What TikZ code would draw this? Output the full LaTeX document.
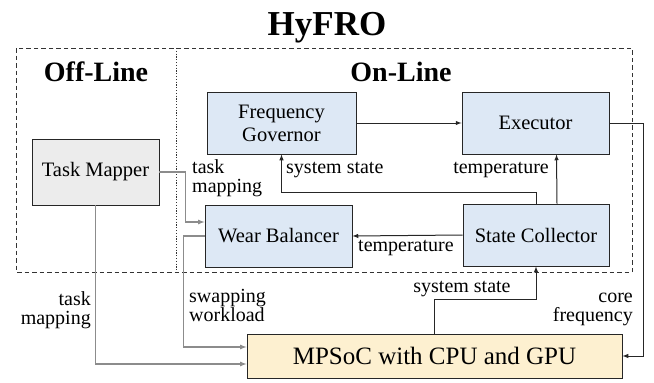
\documentclass[tikz,border=0pt]{standalone}
\usepackage{fontspec}
\setmainfont{Liberation Serif}
\usetikzlibrary{arrows,positioning,calc}

\definecolor{blockblue}{HTML}{DDE8F5}
\definecolor{blockgray}{HTML}{ECECEC}
\definecolor{blockyellow}{HTML}{FDF0D0}
\definecolor{wiregray}{HTML}{8C8C8C}

\begin{document}
\begin{tikzpicture}[x=1pt, y=-1pt,
  block/.style={draw=black!85, line width=0.9pt, fill=#1, align=center,
                inner sep=0pt, font=\fontsize{20.5}{23}\selectfont},
  lbl/.style={inner sep=0pt, font=\fontsize{20}{19}\selectfont},
  head/.style={inner sep=0pt, font=\fontsize{28}{32}\selectfont\bfseries},
  wire/.style={-latex, line width=1pt, draw=black!85},
  graywire/.style={-latex, line width=1.2pt, draw=wiregray}]

  \useasboundingbox (0,0) rectangle (654,383);

  % frame
  \node[inner sep=0pt, font=\fontsize{35}{40}\selectfont\bfseries] (title) at (327,28) {HyFRO};
  \draw[dash pattern=on 4.5pt off 3pt, line width=0.9pt, black!80] (16,48) rectangle (632,272);
  \draw[dash pattern=on 1.2pt off 1.6pt, line width=0.8pt, black!80] (176,48) -- (176,272);
  \node[head] (offline) at (96,72) {Off-Line};
  \node[head] (online)  at (401,72) {On-Line};

  % blocks
  \node[block=blockgray, minimum width=127, minimum height=66] (mapper)    at (95.5,172) {Task Mapper};
  \node[block=blockblue, minimum width=149, minimum height=62] (governor)  at (281.5,123) {Frequency\\Governor};
  \node[block=blockblue, minimum width=147, minimum height=62] (executor)  at (535.5,123) {Executor};
  \node[block=blockblue, minimum width=147, minimum height=62] (balancer)  at (278.5,236) {Wear Balancer};
  \node[block=blockblue, minimum width=146, minimum height=62] (collector) at (536,235) {State Collector};
  \node[block=blockyellow, minimum width=375, minimum height=44,
        font=\fontsize{25}{30}\selectfont] (mpsoc) at (434.5,356) {MPSoC with CPU and GPU};

  % connections
  \draw[wire] (governor.east) -- (executor.west);
  \draw[wire] (executor.east) -- ++(34,0) |- (mpsoc.east);
  \draw[wire] ([xshift=21pt]collector.north) -- ([xshift=21pt]executor.south);
  \draw[wire] (collector.north) -- ++(0,-11) -| (governor.south);
  \draw[wire] (collector.west) -- (balancer.east);
  \draw[wire] (mpsoc.north) -- ++(0,-34) -| (collector.south);
  \draw[graywire] (mapper.east) -- ++(26,0) |- ([yshift=14pt]balancer.west);
  \draw[graywire] (mapper.south) |- ([yshift=-8pt]mpsoc.west);
  \draw[graywire] (balancer.west) -- ++(-21,0) |- ([yshift=9pt]mpsoc.west);

  % labels
  \node[lbl, align=left, anchor=west]  (mapA)  at (192,178) {task\\mapping};
  \node[lbl, anchor=west]              (stA)   at (286,170) {system state};
  \node[lbl, anchor=east]              (tempA) at (549,170) {temperature};
  \node[lbl, anchor=west]              (tempB) at (358,248) {temperature};
  \node[lbl, align=right, anchor=east] (mapB)  at (91,310) {task\\mapping};
  \node[lbl, align=left, anchor=west]  (swap)  at (189,305) {swapping\\workload};
  \node[lbl, align=right, anchor=east] (freq)  at (633,309) {core\\frequency};
  \node[lbl]                           (stB)   at (462,289) {system state};

\end{tikzpicture}
\end{document}
